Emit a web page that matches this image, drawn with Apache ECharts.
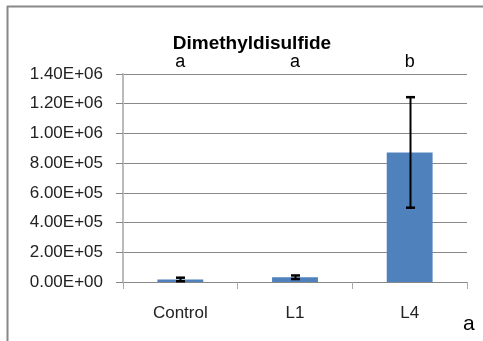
<!DOCTYPE html>
<html><head><meta charset="utf-8">
<script src="https://cdn.jsdelivr.net/npm/echarts@6/dist/echarts.min.js"></script>
<style>html,body{margin:0;padding:0;background:#fff}#c{width:483px;height:341px}</style>
</head><body><div id="c"></div>
<script>
var categories = ['Control', 'L1', 'L4'];
var means = [17000, 32000, 872000];
var errors = [12000, 12000, 372000];
var letters = ['a', 'a', 'b'];
var yTicks = [0, 200000, 400000, 600000, 800000, 1000000, 1200000, 1400000];

var chart = echarts.init(document.getElementById('c'), null, {renderer: 'canvas'});
var FONT = 'Liberation Sans';
function fmt(v) {
  if (v === 0) return '0.00E+00';
  var e = Math.floor(Math.log10(v));
  var m = v / Math.pow(10, e);
  return m.toFixed(2) + 'E+' + (e < 10 ? '0' + e : e);
}
chart.setOption({
  animation: false,
  title: {
    text: 'Dimethyldisulfide', left: 247, top: 29, textAlign: 'center',
    textStyle: {fontFamily: FONT, fontSize: 19, fontWeight: 'bold', color: '#000'}
  },
  grid: {left: 123, right: 16, top: 74, bottom: 59},
  xAxis: {
    type: 'category', data: categories,
    axisLine: {lineStyle: {color: '#888', width: 1}},
    axisTick: {show: true, length: 7, lineStyle: {color: '#aaa'}},
    axisLabel: {fontFamily: FONT, fontSize: 17, color: '#222', margin: 23}
  },
  yAxis: {
    type: 'value', min: 0, max: 1400000, interval: 200000,
    axisLine: {show: true, lineStyle: {color: '#bbb', width: 2}},
    axisTick: {show: true, length: 7, lineStyle: {color: '#888'}},
    splitLine: {lineStyle: {color: '#888', width: 1}},
    axisLabel: {fontFamily: FONT, fontSize: 17, color: '#222', margin: 20, formatter: fmt}
  },
  graphic: [
    {type: 'line', shape: {x1: 7, y1: 6.5, x2: 483, y2: 6.5}, style: {stroke: '#888', lineWidth: 2}},
    {type: 'line', shape: {x1: 7.5, y1: 6, x2: 7.5, y2: 341}, style: {stroke: '#888', lineWidth: 2}},
    {type: 'text', left: 463, top: 314, style: {text: 'a', fontFamily: FONT, fontSize: 21, fill: '#000'}}
  ],
  series: [
    {
      type: 'bar', data: means, barWidth: '40%',
      itemStyle: {color: '#4f81bd'}
    },
    {
      type: 'custom',
      data: categories.map(function (c, i) { return [i, means[i] - errors[i], means[i] + errors[i]]; }),
      renderItem: function (params, api) {
        var lo = api.coord([api.value(0), api.value(1)]);
        var hi = api.coord([api.value(0), api.value(2)]);
        var x = Math.round(lo[0]) + 0.5, hw = 4.5;
        var st = {stroke: '#000', lineWidth: 2};
        return {type: 'group', children: [
          {type: 'line', shape: {x1: x, y1: hi[1], x2: x, y2: lo[1]}, style: st},
          {type: 'line', shape: {x1: x - hw, y1: hi[1], x2: x + hw, y2: hi[1]}, style: {stroke: '#000', lineWidth: 2.5}},
          {type: 'line', shape: {x1: x - hw, y1: lo[1], x2: x + hw, y2: lo[1]}, style: {stroke: '#000', lineWidth: 2.5}}
        ]};
      },
      z: 5
    },
    {
      type: 'custom',
      data: letters.map(function (l, i) { return [i, 1400000]; }),
      renderItem: function (params, api) {
        var p = api.coord([api.value(0), api.value(1)]);
        return {type: 'text', x: p[0], y: p[1] - 3, style: {
          text: letters[params.dataIndex], fontFamily: FONT, fontSize: 18, fill: '#000',
          align: 'center', verticalAlign: 'bottom'}};
      },
      clip: false
    }
  ]
});
</script></body></html>
